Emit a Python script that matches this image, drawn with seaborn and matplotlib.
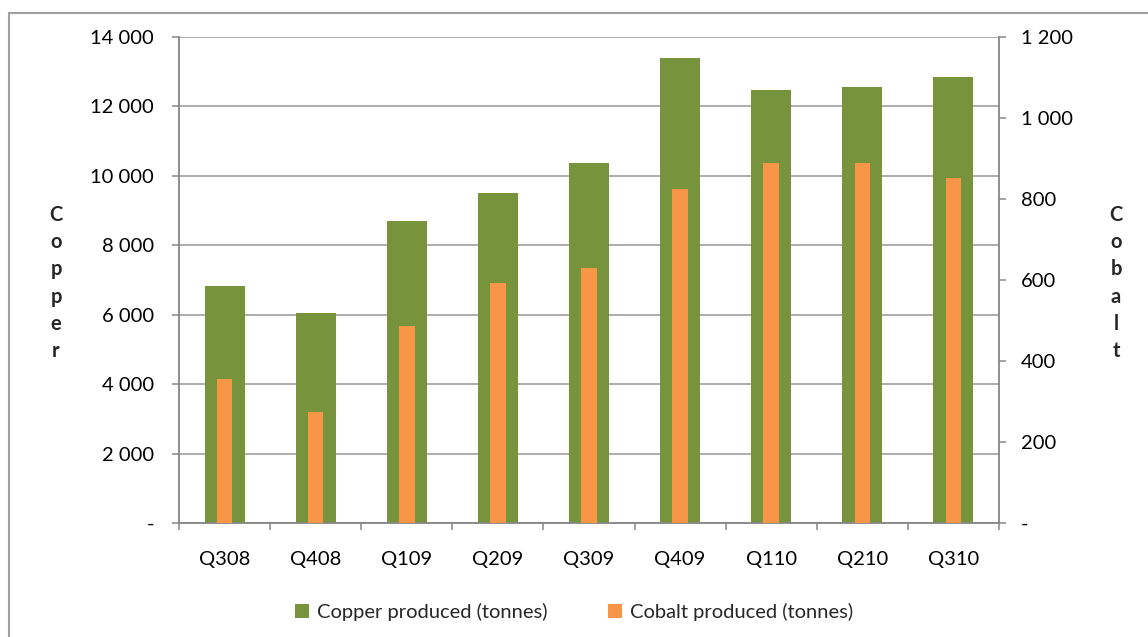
import matplotlib
matplotlib.use("Agg")
import matplotlib.pyplot as plt
import seaborn as sns
from matplotlib.patches import Rectangle, Patch
from matplotlib.ticker import FuncFormatter, MultipleLocator, FixedLocator

# ---- data ----
quarters = ["Q308", "Q408", "Q109", "Q209", "Q309", "Q409", "Q110", "Q210", "Q310"]
copper = [6830, 6050, 8710, 9500, 10360, 13390, 12480, 12560, 12850]
cobalt = [356, 274, 486, 593, 630, 825, 889, 889, 852]

green = "#77933C"
orange = "#F79646"
grid_col = "#A6A6A6"
spine_col = "#868686"
FS = 14.5

sns.set_theme(style="white")
plt.rcParams["font.family"] = ["Lato", "DejaVu Sans"]


def fmt(v, pos):
    if abs(v) < 1e-9:
        return "-"
    return f"{int(round(v)):,}".replace(",", " ")


fig = plt.figure(figsize=(11.48, 6.37), dpi=100)
W, H = 1148, 637
ax = fig.add_axes([179 / W, 1 - 523 / H, (999 - 179) / W, (523 - 37) / H])
ax2 = ax.twinx()

sns.barplot(x=quarters, y=copper, ax=ax, color=green, width=0.44,
            linewidth=0, saturation=1)
sns.barplot(x=quarters, y=cobalt, ax=ax2, color=orange, width=0.17,
            linewidth=0, saturation=1)

ax.set_ylim(0, 14000)
ax2.set_ylim(0, 1200)
ax.set_xlim(-0.5, len(quarters) - 0.5)
ax.yaxis.set_major_locator(MultipleLocator(2000))
ax2.yaxis.set_major_locator(MultipleLocator(200))
ax.yaxis.set_major_formatter(FuncFormatter(fmt))
ax2.yaxis.set_major_formatter(FuncFormatter(fmt))

ax.set_axisbelow(True)
ax.grid(axis="y", color=grid_col, linewidth=1.3)
ax.grid(axis="x", visible=False)
ax2.grid(False)

for a in (ax, ax2):
    a.set_xlabel("")
    a.set_ylabel("")
    for s in a.spines.values():
        s.set_visible(False)

ax.spines["left"].set_visible(True)
ax.spines["bottom"].set_visible(True)
ax2.spines["right"].set_visible(True)
for s in (ax.spines["left"], ax.spines["bottom"], ax2.spines["right"]):
    s.set_color(spine_col)
    s.set_linewidth(1.3)

ax.tick_params(axis="y", which="major", left=True, length=5, width=1.1,
               color=spine_col, pad=13, labelsize=FS, labelcolor="black")
ax2.tick_params(axis="y", which="major", right=True, length=5, width=1.1,
                color=spine_col, pad=11, labelsize=FS, labelcolor="black")

# x ticks: labels centred on bars, tick marks between categories
ax.xaxis.set_minor_locator(FixedLocator([i - 0.5 for i in range(len(quarters) + 1)]))
ax.tick_params(axis="x", which="major", length=0, pad=20, labelsize=FS,
               labelcolor="black")
ax.tick_params(axis="x", which="minor", bottom=True, length=5, width=1.1,
               color=spine_col)

# stacked letter axis titles
fig.text(56 / W, 1 - 283 / H, "\n".join("Copper"), ha="center", va="center",
         fontsize=FS, fontweight="bold", linespacing=1.45)
fig.text(1116 / W, 1 - 283 / H, "\n".join("Cobalt"), ha="center", va="center",
         fontsize=FS, fontweight="bold", linespacing=1.45)

# legend at the bottom
handles = [Patch(facecolor=green, edgecolor="none"),
           Patch(facecolor=orange, edgecolor="none")]
fig.legend(handles, ["Copper produced (tonnes)", "Cobalt produced (tonnes)"],
           loc="center", bbox_to_anchor=(0.5, 1 - 612 / H), ncol=2,
           frameon=False, fontsize=FS, handlelength=0.7, handleheight=0.7,
           handletextpad=0.4, columnspacing=3.0)

# outer chart border (runs off the right and bottom edge)
fig.patches.append(Rectangle((9 / W, -0.05), 1.2, 1 - 13 / H + 0.05,
                             transform=fig.transFigure, fill=False,
                             edgecolor="#A0A0A0", linewidth=1.5))

fig.savefig("out.png", dpi=100)
